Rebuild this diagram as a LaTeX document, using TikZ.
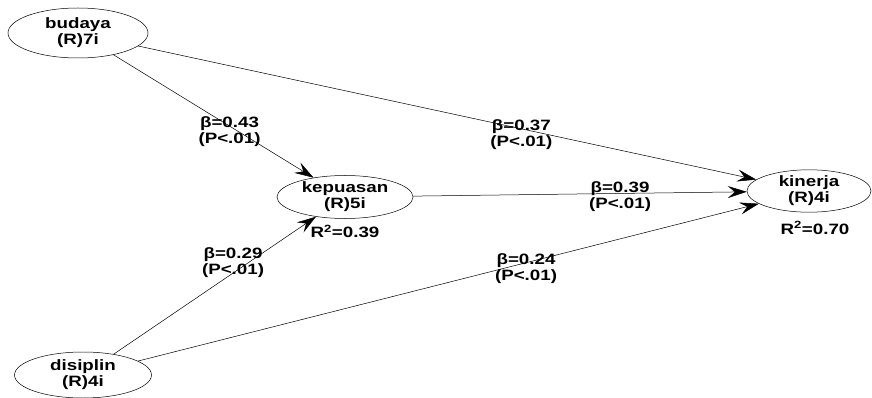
\documentclass[tikz,border=0pt]{standalone}
\usepackage{fontspec}
\setmainfont[FakeStretch=1.25]{Liberation Sans}
\usepackage{tikz}
\usetikzlibrary{shapes.geometric, arrows.meta, positioning}

\tikzset{
  latent/.style={ellipse, draw, line width=0.5pt, inner sep=0pt, align=center,
    font=\fontsize{15}{16}\selectfont\bfseries},
  effect/.style={-{Stealth[length=19pt,width=12pt,inset=7pt]}, line width=0.5pt},
  coef/.style={inner sep=0pt, align=center, font=\fontsize{15}{16}\selectfont\bfseries}
}

\begin{document}
\begin{tikzpicture}[x=1pt,y=-1pt]
\useasboundingbox (0,0) rectangle (872,398);
\node[latent, minimum width=140pt, minimum height=50pt] (budaya) at (78,33) {budaya\\(R)7i};
\node[latent, minimum width=136pt, minimum height=43pt] (kepuasan) at (345,197) {kepuasan\\(R)5i};
\node[latent, minimum width=124pt, minimum height=40pt] (kinerja) at (809,191) {kinerja\\(R)4i};
\node[latent, minimum width=137pt, minimum height=46pt] (disiplin) at (83,375) {disiplin\\(R)4i};
\node[coef, below=6pt of kepuasan] (r2kepuasan) {R\textsuperscript{2}=0.39};
\node[coef, below=9pt of kinerja, xshift=6pt] (r2kinerja) {R\textsuperscript{2}=0.70};
\draw[effect] (budaya) -- (kepuasan) node[coef, pos=0.58, yshift=-6pt] (b1) {β=0.43\\(P<.01)};
\draw[effect] (budaya) -- (kinerja) node[coef, pos=0.62, yshift=-6pt] (b2) {β=0.37\\(P<.01)};
\draw[effect] (kepuasan) -- (kinerja) node[coef, pos=0.62, yshift=-3pt] (b3) {β=0.39\\(P<.01)};
\draw[effect] (disiplin) -- (kepuasan) node[coef, pos=0.59, yshift=10pt] (b4) {β=0.29\\(P<.01)};
\draw[effect] (disiplin) -- (kinerja) node[coef, pos=0.625, yshift=-6pt] (b5) {β=0.24\\(P<.01)};
\end{tikzpicture}
\end{document}
